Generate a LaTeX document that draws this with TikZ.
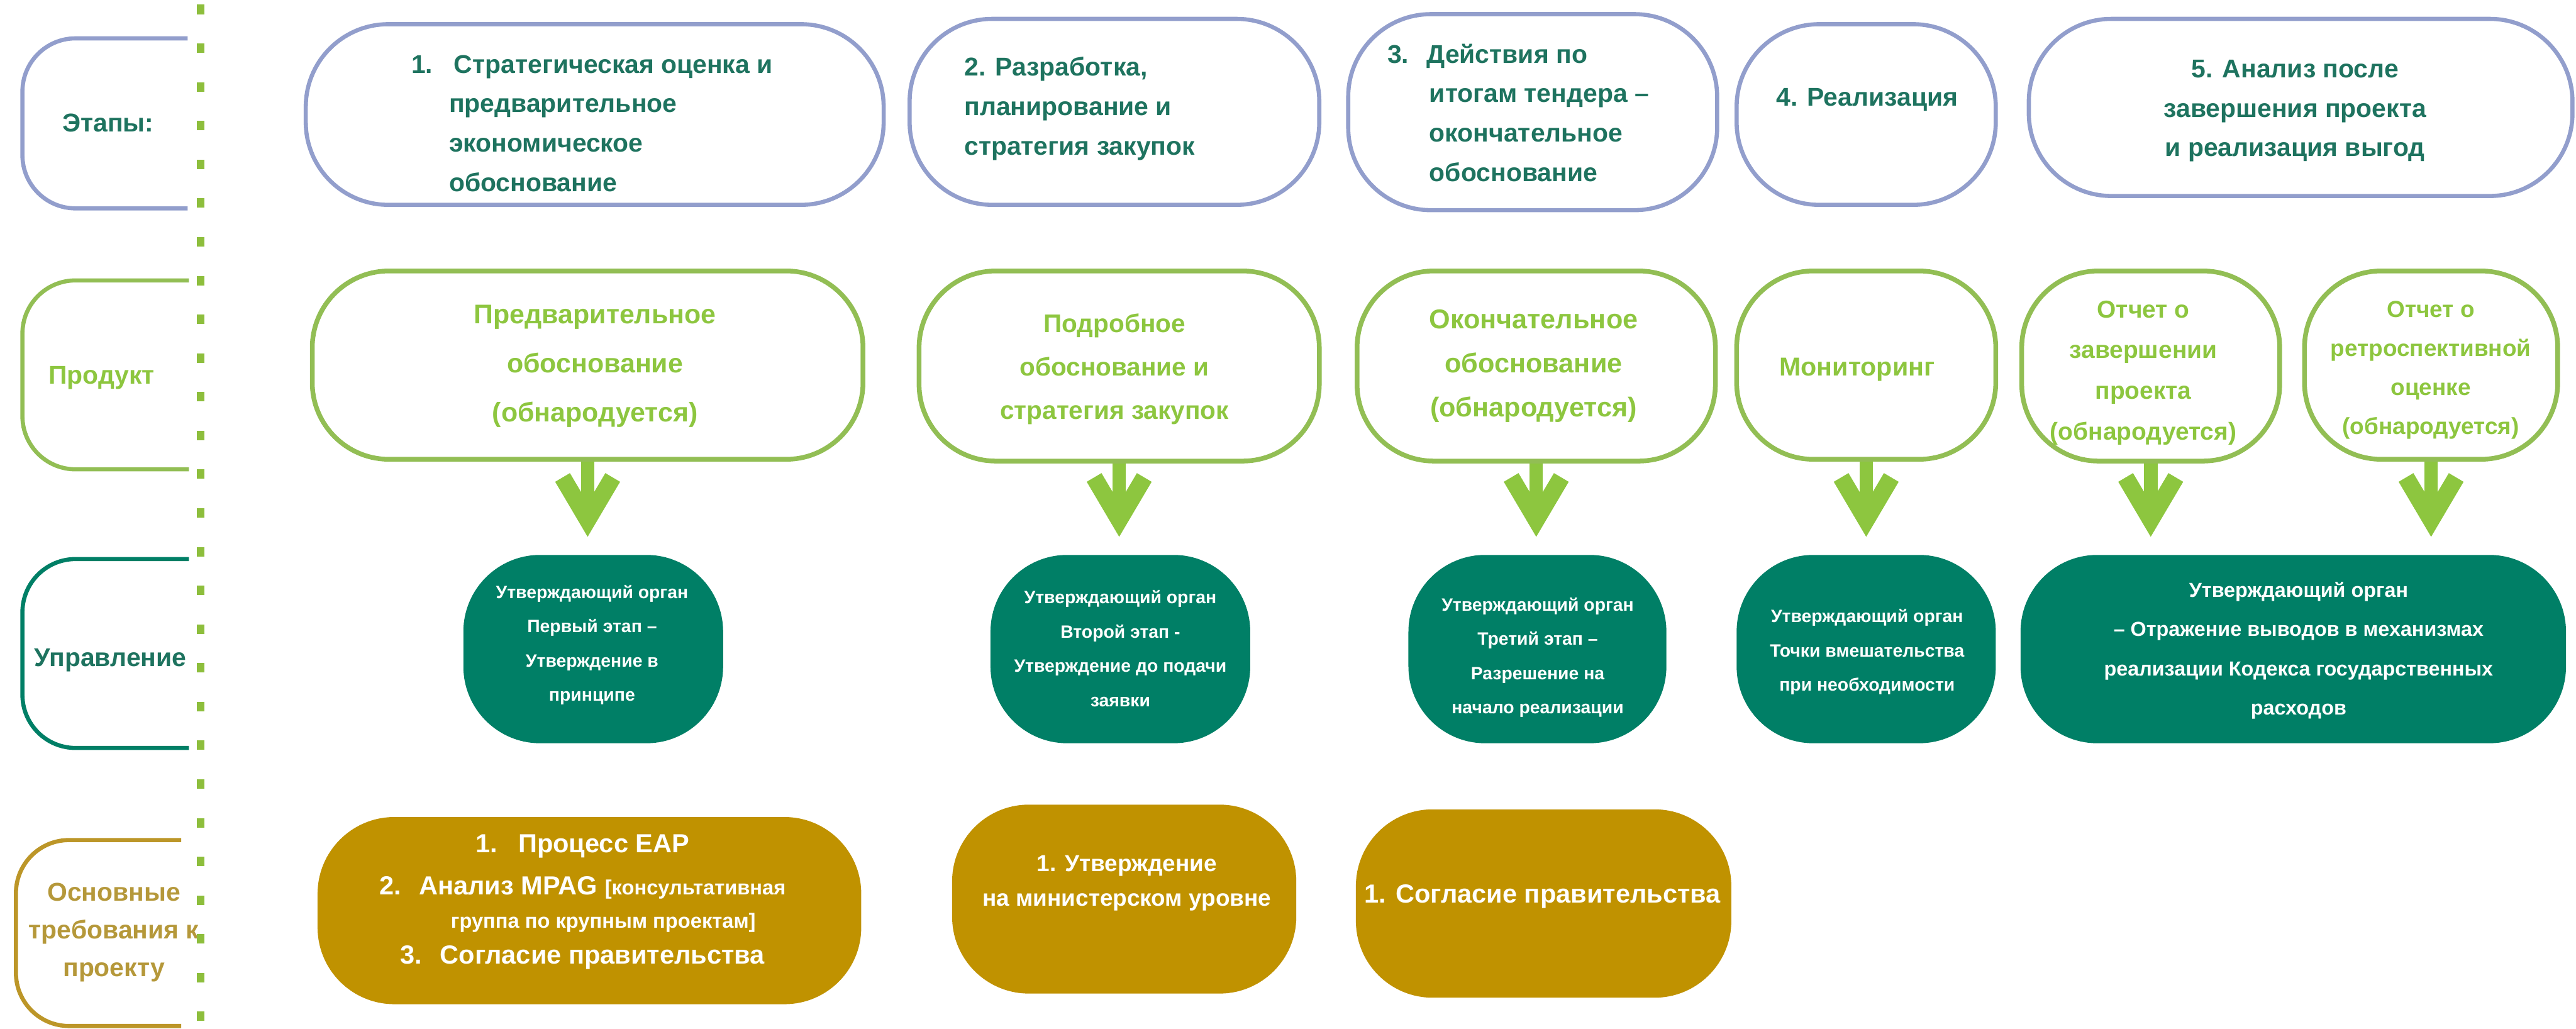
\documentclass[tikz,border=0pt]{standalone}
\usepackage{fontspec}
\setmainfont{Liberation Sans}
\usetikzlibrary{arrows.meta}
\definecolor{stageblue}{RGB}{146,158,204}
\definecolor{stagetext}{RGB}{30,115,95}
\definecolor{prodline}{RGB}{146,190,84}
\definecolor{prodtext}{RGB}{141,198,63}
\definecolor{govfill}{RGB}{0,127,102}
\definecolor{reqfill}{RGB}{192,146,0}
\definecolor{reqline}{RGB}{188,150,40}
\definecolor{reqtext}{RGB}{181,152,58}
\definecolor{dotgreen}{RGB}{141,190,60}

\begin{document}
\begin{tikzpicture}[
  boxsize/.style 2 args={rectangle, inner sep=0pt, minimum width=#1cm, minimum height=#2cm},
  stagebox/.style={draw=stageblue, line width=0.07cm, rounded corners=1.4cm},
  prodbox/.style={draw=prodline, line width=0.08cm, rounded corners=1.3cm},
  govbox/.style={fill=govfill, rounded corners=1.3cm},
  reqbox/.style={fill=reqfill, rounded corners=1.3cm},
  fsize/.style 2 args={font=\fontsize{#1}{#2}\selectfont\bfseries},
  stagetxt/.style={text=stagetext, fsize={12.4}{19}},
  prodtxt/.style={text=prodtext, align=center},
  govtxt/.style={text=white, align=center, fsize={8.6}{16.5}},
  reqtxt/.style={text=white, align=center},
  rowlabel/.style={fsize={12.4}{18.2}, align=center},
  bracket/.style={line width=0.07cm, rounded corners=0.9cm},
  downarrow/.style={draw=prodtext, line width=0.23cm, -{Straight Barb[length=0.72cm, width=0.85cm, line width=0.29cm]}, shorten >=0.3cm}
]
\useasboundingbox (0,0) rectangle (43.64,17.43);

% row labels
\draw[bracket, stageblue] (3.18,16.78) -- (0.38,16.78) -- (0.38,13.90) -- (3.18,13.90);
\draw[bracket, prodline] (3.20,12.68) -- (0.38,12.68) -- (0.38,9.48) -- (3.20,9.48);
\draw[bracket, govfill] (3.20,7.96) -- (0.38,7.96) -- (0.38,4.76) -- (3.20,4.76);
\draw[bracket, reqline] (3.07,3.20) -- (0.27,3.20) -- (0.27,0.05) -- (3.07,0.05);
\node[rowlabel, text=stagetext] (lstage) at (1.83,15.35) {Этапы:};
\node[rowlabel, text=prodtext] (lprod) at (1.72,11.03) {Продукт};
\node[rowlabel, text=stagetext] (lgov) at (1.87,6.25) {Управление};
\node[rowlabel, text=reqtext] (lreq) at (1.93,1.64) {Основные\\требования к\\проекту};
\draw[dotgreen, line width=0.13cm, dash pattern=on 0.16cm off 0.496cm] (3.40,17.35) -- (3.40,0.05);

% stages
\node[boxsize={9.79}{3.06}, stagebox] (s1) at (10.075,15.49) {};
\node[boxsize={6.94}{3.15}, stagebox] (s2) at (18.88,15.535) {};
\node[boxsize={6.25}{3.32}, stagebox] (s3) at (25.965,15.53) {};
\node[boxsize={4.39}{3.06}, stagebox] (s4) at (31.615,15.49) {};
\node[boxsize={9.21}{3.00}, stagebox] (s5) at (38.975,15.61) {};
\node[stagetxt, align=left] (s1t) at (10.03,15.34) {1.\hspace{0.36cm}Стратегическая оценка и\\\hspace*{0.64cm}предварительное\\\hspace*{0.64cm}экономическое\\\hspace*{0.64cm}обоснование};
\node[stagetxt, align=left] (s2t) at (18.29,15.59) {2. Разработка,\\планирование и\\стратегия закупок};
\node[stagetxt, align=left] (s3t) at (25.72,15.52) {3.\hspace{0.30cm}Действия по\\\hspace*{0.71cm}итогам тендера –\\\hspace*{0.71cm}окончательное\\\hspace*{0.71cm}обоснование};
\node[stagetxt] (s4t) at (31.63,15.74) {4. Реализация};
\node[stagetxt, align=center] (s5t) at (38.88,15.55) {5. Анализ после\\завершения проекта\\и реализация выгод};

% products
\node[boxsize={9.33}{3.19}, prodbox] (p1) at (9.955,11.245) {};
\node[boxsize={6.78}{3.22}, prodbox] (p2) at (18.96,11.23) {};
\node[boxsize={6.07}{3.22}, prodbox] (p3) at (26.025,11.23) {};
\node[boxsize={4.39}{3.19}, prodbox] (p4) at (31.615,11.245) {};
\node[boxsize={4.37}{3.22}, prodbox] (p5a) at (36.435,11.23) {};
\node[boxsize={4.29}{3.19}, prodbox] (p5b) at (41.185,11.245) {};
\node[prodtxt, fsize={13}{23.6}] (p1t) at (10.08,11.23) {Предварительное\\обоснование\\(обнародуется)};
\node[prodtxt, fsize={12.3}{21}] (p2t) at (18.88,11.18) {Подробное\\обоснование и\\стратегия закупок};
\node[prodtxt, fsize={13.1}{21.3}] (p3t) at (25.98,11.23) {Окончательное\\обоснование\\(обнародуется)};
\node[prodtxt, fsize={12.5}{19}] (p4t) at (31.46,11.17) {Мониторинг};
\node[prodtxt, fsize={11.8}{19.6}] (p5at) at (36.31,11.115) {Отчет о\\завершении\\проекта\\(обнародуется)};
\node[prodtxt, fsize={11.2}{18.8}] (p5bt) at (41.18,11.16) {Отчет о\\ретроспективной\\оценке\\(обнародуется)};

% governance
\node[boxsize={4.40}{3.19}, govbox] (g1) at (10.05,6.435) {};
\node[boxsize={4.40}{3.19}, govbox] (g2) at (18.98,6.435) {};
\node[boxsize={4.37}{3.19}, govbox] (g3) at (26.045,6.435) {};
\node[boxsize={4.39}{3.19}, govbox] (g4) at (31.615,6.435) {};
\node[boxsize={9.24}{3.19}, govbox] (g5) at (38.85,6.435) {};
\node[govtxt] (g1t) at (10.03,6.505) {Утверждающий орган\\Первый этап –\\Утверждение в\\принципе};
\node[govtxt] (g2t) at (18.98,6.445) {Утверждающий орган\\Второй этап -\\Утверждение до подачи\\заявки};
\node[govtxt] (g3t) at (26.05,6.29) {Утверждающий орган\\Третий этап –\\Разрешение на\\начало реализации};
\node[govtxt] (g4t) at (31.63,6.385) {Утверждающий орган\\Точки вмешательства\\при необходимости};
\node[govtxt, fsize={9.8}{18.8}] (g5t) at (38.94,6.41) {Утверждающий орган\\– Отражение выводов в механизмах\\реализации Кодекса государственных\\расходов};

% requirements
\node[boxsize={9.21}{3.17}, reqbox] (r1) at (9.985,2.005) {};
\node[boxsize={5.83}{3.20}, reqbox] (r2) at (19.045,2.20) {};
\node[boxsize={6.36}{3.19}, reqbox] (r3) at (26.15,2.125) {};
\node[reqtxt, fsize={12.6}{16}] (r1t) at (9.87,2.15) {1.\hspace{0.35cm}Процесс EAP\\[4.2pt]2.\hspace{0.3cm}Анализ MPAG {\fontsize{9.9}{12}\selectfont[консультативная}\\\hspace*{0.7cm}{\fontsize{9.9}{12}\selectfont группа по крупным проектам]}\\[1.4pt]3.\hspace{0.3cm}Согласие правительства};
\node[reqtxt, fsize={11.2}{16.5}] (r2t) at (19.09,2.47) {1. Утверждение\\на министерском уровне};
\node[reqtxt, fsize={12.6}{16}] (r3t) at (26.13,2.24) {1. Согласие правительства};

% arrows
\draw[downarrow] (p1.south) -- (p1.south |- g1.north);
\draw[downarrow] (p2.south) -- (p2.south |- g2.north);
\draw[downarrow] (p3.south) -- (p3.south |- g3.north);
\draw[downarrow] (p4.south) -- (p4.south |- g4.north);
\draw[downarrow] (p5a.south) -- (p5a.south |- g5.north);
\draw[downarrow] (p5b.south) -- (p5b.south |- g5.north);
\end{tikzpicture}
\end{document}
